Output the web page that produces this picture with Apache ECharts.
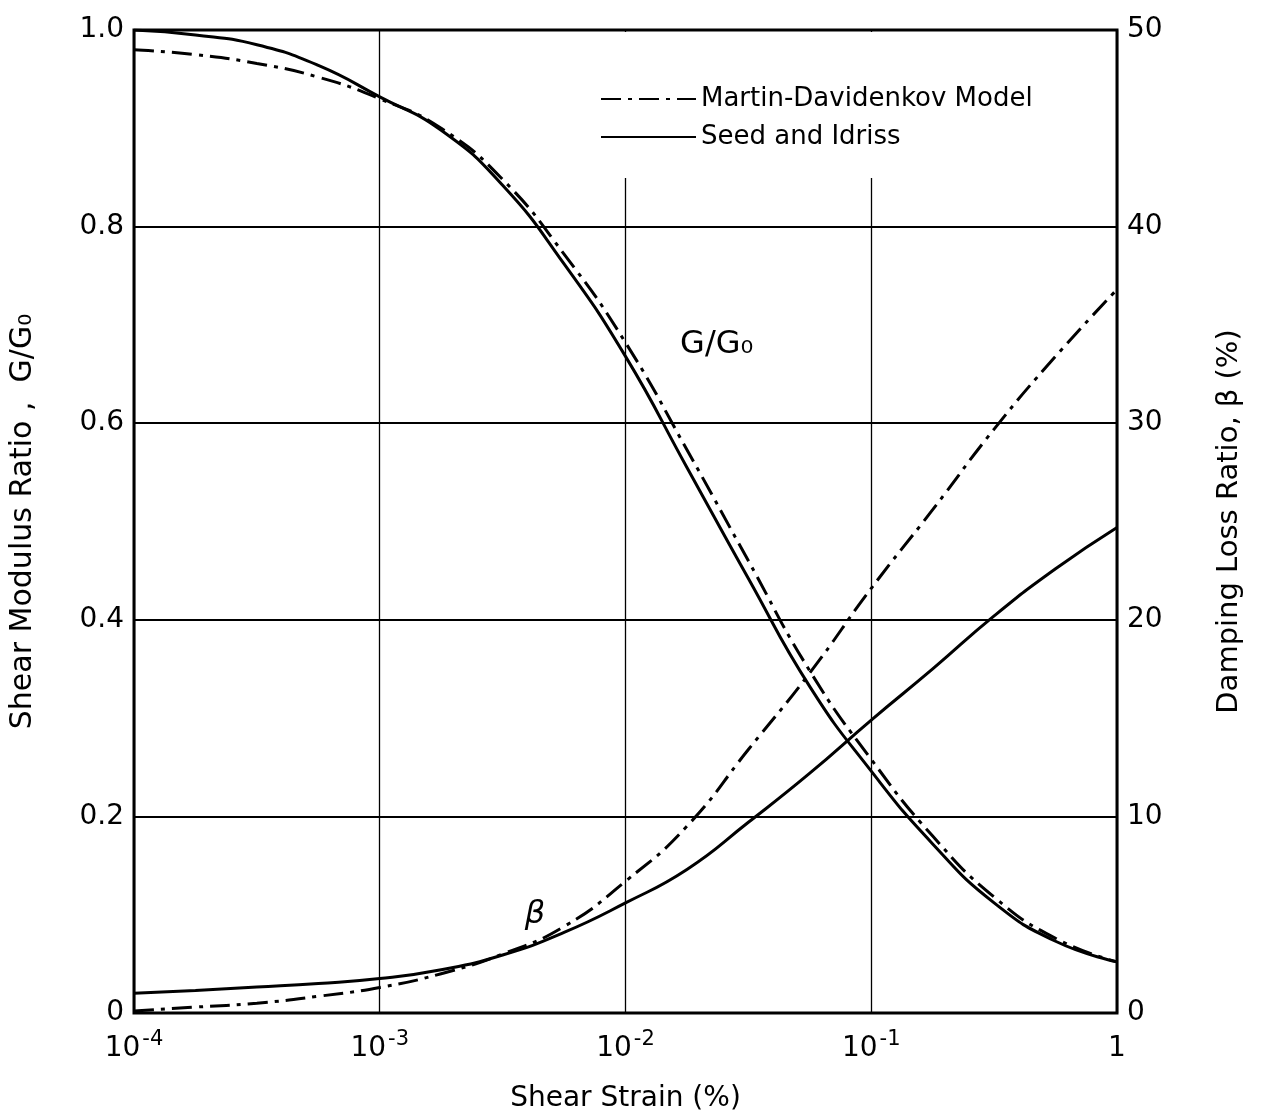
<!DOCTYPE html>
<html>
<head>
<meta charset="utf-8">
<script src="https://cdn.jsdelivr.net/npm/echarts@6/dist/echarts.min.js"></script>
<style>
  html, body { margin: 0; padding: 0; background: #fff; }
  #chart { width: 1263px; height: 1118px; }
</style>
</head>
<body>
<div id="chart"></div>
<script>
// shear strain (%) sample points, as powers of ten
const strainExp = [-4, -3.75, -3.5, -3.25, -3, -2.75, -2.5, -2.25, -2, -1.75, -1.5, -1.25, -1, -0.75, -0.5, -0.25, 0];

// G/G0, left axis
const gMartin = [0.98, 0.975, 0.966, 0.952, 0.93, 0.90, 0.848, 0.772, 0.682, 0.573, 0.46, 0.348, 0.258, 0.18, 0.118, 0.076, 0.052];
const gSeed   = [1.0, 0.995, 0.985, 0.964, 0.932, 0.898, 0.842, 0.762, 0.668, 0.555, 0.442, 0.332, 0.246, 0.172, 0.112, 0.073, 0.052];

// damping ratio beta (%), right axis
const bMartin = [0.1, 0.3, 0.5, 0.85, 1.3, 2.0, 3.0, 4.4, 6.7, 9.5, 13.4, 17.3, 21.6, 25.6, 29.7, 33.4, 36.8];
const bSeed   = [1.0, 1.15, 1.32, 1.5, 1.75, 2.2, 2.95, 4.1, 5.6, 7.3, 9.7, 12.2, 14.9, 17.5, 20.2, 22.6, 24.7];

// curve labels placed in data coords [strain, G/G0]
const curveNotes = [
  { text: 'G/G₀', at: [0.0235, 0.68], italic: false },
  { text: 'β', at: [0.00428, 0.10], italic: true }
];

const legendNames = ['Martin-Davidenkov Model', 'Seed and Idriss'];

const FONT = 'DejaVu Sans';
const dashDot = [20, 7, 4, 7];

function pairs(ys) {
  return strainExp.map((e, i) => [Math.pow(10, e), ys[i]]);
}

const chart = echarts.init(document.getElementById('chart'));

chart.setOption({
  backgroundColor: '#fff',
  animation: false,
  textStyle: { fontFamily: FONT, color: '#000' },
  grid: {
    left: 134, right: 146, top: 30, bottom: 103,
    show: true, borderColor: '#000', borderWidth: 3, backgroundColor: 'transparent'
  },
  legend: {
    data: legendNames,
    orient: 'vertical',
    left: 592, top: 32,
    padding: [54, 20, 28, 8],
    itemGap: 12,
    itemWidth: 95, itemHeight: 20,
    backgroundColor: '#fff',
    itemStyle: { opacity: 0 },
    textStyle: { fontFamily: FONT, fontSize: 26, color: '#000' },
    inactiveColor: '#999'
  },
  xAxis: {
    type: 'log', logBase: 10, min: 1e-4, max: 1,
    name: 'Shear Strain (%)', nameLocation: 'middle', nameGap: 72,
    nameTextStyle: { fontFamily: FONT, fontSize: 28, color: '#000' },
    axisLine: { show: false }, axisTick: { show: false },
    splitLine: { show: true, lineStyle: { color: '#000', width: 1.3 } },
    axisLabel: {
      margin: 16, color: '#000',
      formatter: v => {
        const e = Math.round(Math.log10(v));
        return e === 0 ? '{b|1}' : '{b|10}{s|' + e + '}';
      },
      rich: {
        b: { fontFamily: FONT, fontSize: 28, color: '#000', verticalAlign: 'bottom', lineHeight: 34 },
        s: { fontFamily: FONT, fontSize: 21, color: '#000', verticalAlign: 'top', lineHeight: 34, padding: [0, 0, 12, 2] }
      }
    }
  },
  yAxis: [
    {
      type: 'value', min: 0, max: 1, interval: 0.2,
      name: 'Shear Modulus Ratio ,  G/G₀', nameLocation: 'middle', nameGap: 96, nameRotate: 90,
      nameTextStyle: { fontFamily: FONT, fontSize: 30, color: '#000' },
      axisLine: { show: false }, axisTick: { show: false },
      splitLine: { show: true, lineStyle: { color: '#000', width: 2 } },
      axisLabel: {
        margin: 10, fontFamily: FONT, fontSize: 28, color: '#000',
        formatter: v => v === 0 ? '0' : v.toFixed(1)
      }
    },
    {
      type: 'value', min: 0, max: 50, interval: 10, position: 'right',
      name: 'Damping Loss Ratio, β (%)', nameLocation: 'middle', nameGap: 98, nameRotate: 90,
      nameTextStyle: { fontFamily: FONT, fontSize: 29, color: '#000' },
      axisLine: { show: false }, axisTick: { show: false },
      splitLine: { show: false },
      axisLabel: { margin: 10, fontFamily: FONT, fontSize: 28, color: '#000' }
    }
  ],
  series: [
    {
      name: legendNames[0], type: 'line', yAxisIndex: 0, data: pairs(gMartin),
      smooth: 0.5, symbol: 'none', z: 3,
      lineStyle: { color: '#000', width: 3, type: dashDot }, itemStyle: { color: '#000' }
    },
    {
      name: legendNames[1], type: 'line', yAxisIndex: 0, data: pairs(gSeed),
      smooth: 0.5, symbol: 'none', z: 3,
      lineStyle: { color: '#000', width: 3, type: 'solid' }, itemStyle: { color: '#000' }
    },
    {
      name: legendNames[0], type: 'line', yAxisIndex: 1, data: pairs(bMartin),
      smooth: 0.5, symbol: 'none', z: 3,
      lineStyle: { color: '#000', width: 3, type: dashDot }, itemStyle: { color: '#000' }
    },
    {
      name: legendNames[1], type: 'line', yAxisIndex: 1, data: pairs(bSeed),
      smooth: 0.5, symbol: 'none', z: 3,
      lineStyle: { color: '#000', width: 3, type: 'solid' }, itemStyle: { color: '#000' }
    },
    {
      name: 'notes', type: 'scatter', yAxisIndex: 0, symbolSize: 0, silent: true, z: 4,
      itemStyle: { opacity: 1, color: '#000' },
      data: curveNotes.map(n => ({
        value: n.at,
        label: { formatter: n.text, fontStyle: n.italic ? 'italic' : 'normal' }
      })),
      label: {
        show: true, position: 'inside', fontFamily: FONT, fontSize: 32,
        color: '#000', opacity: 1
      }
    }
  ]
});
</script>
</body>
</html>
